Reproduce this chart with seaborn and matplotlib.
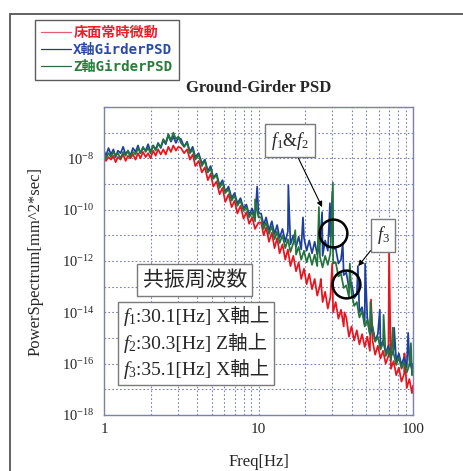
import numpy as np
import pandas as pd
import matplotlib
matplotlib.use("Agg")
import matplotlib.pyplot as plt
import seaborn as sns
from matplotlib.patches import Rectangle
from matplotlib.offsetbox import TextArea, HPacker, VPacker, AnnotationBbox

# ---------------- data (log10 of PSD) ----------------
freq = [1.00, 1.03, 1.07, 1.11, 1.15, 1.19, 1.23, 1.28, 1.33, 1.38, 1.43, 1.48, 1.54, 1.60, 1.66,
        1.72, 1.79, 1.86, 1.93, 2.00, 2.08, 2.16, 2.24, 2.33, 2.42, 2.51, 2.61, 2.71, 2.81, 2.92, 3.03,
        3.15, 3.3, 3.45, 3.6, 3.75, 3.9, 4.1, 4.3, 4.5, 4.7, 4.9, 5.1, 5.35, 5.6, 5.85, 6.1, 6.4,
        6.7, 7.0, 7.3, 7.65, 8.0, 8.35, 8.7, 9.1, 9.5, 10.0,
        10.4, 10.8, 11.2, 11.7, 12.2, 12.7, 13.2, 13.7, 14.3, 14.9, 15.5, 16.1, 16.8, 17.5, 18.2,
        18.9, 19.7, 20.5, 21.3, 22.2, 23.1, 24.0, 25.0, 26.0, 27.0, 28.1, 29.2, 30.4, 31.6, 32.9,
        34.2, 35.6, 37.0, 38.5, 40.0, 41.6, 43.3, 45.0, 46.8, 48.7, 50.6, 52.6, 54.7, 56.9, 59.2,
        61.6, 64.0, 66.6, 69.3, 72.0, 74.9, 77.9, 81.0, 84.2, 87.6, 91.1, 94.7, 98.5, 100.0]

x_log = [-7.70, -7.90, -7.60, -7.85, -7.65, -7.95, -7.70, -7.80, -7.55, -7.85, -7.70, -7.90, -7.60, -7.75, -7.50,
         -7.80, -7.60, -7.70, -7.45, -7.75, -7.50, -7.65, -7.40, -7.60, -7.30, -7.45, -7.10, -7.35, -7.15, -7.40, -7.20,
         -7.25, -7.55, -7.35, -7.75, -7.55, -7.95, -7.80, -8.20, -8.05, -8.50, -8.30, -8.75, -8.60, -9.05, -8.85, -9.30, -9.10,
         -9.55, -9.35, -9.75, -9.55, -9.95, -9.80, -10.20, -9.95, -10.35, -10.15,
         -10.15, -10.60, -10.30, -10.80, -10.45, -10.95, -10.60, -11.10, -10.75, -11.25, -10.85, -11.35, -11.00, -11.45, -11.05,
         -11.55, -11.10, -11.60, -11.20, -11.70, -11.25, -11.75, -11.30, -11.80, -11.20, -11.60, -11.05, -11.55, -11.50, -12.10,
         -11.95, -12.55, -12.45, -13.05, -12.85, -13.45, -13.30, -14.00, -13.80, -14.45, -14.20, -14.85, -14.55, -15.10, -14.85,
         -15.35, -15.10, -15.60, -15.30, -15.75, -15.45, -15.90, -15.60, -16.05, -15.75, -16.15, -15.85, -16.25, -16.00]

z_log = [-7.85, -8.00, -7.80, -7.95, -7.75, -7.90, -7.80, -8.00, -7.75, -7.90, -7.70, -7.95, -7.75, -7.85, -7.60,
         -7.80, -7.55, -7.75, -7.60, -7.80, -7.50, -7.70, -7.45, -7.55, -7.25, -7.40, -7.05, -7.30, -7.00, -7.25, -7.15,
         -7.40, -7.55, -7.40, -7.80, -7.65, -8.05, -7.85, -8.30, -8.10, -8.55, -8.40, -8.80, -8.65, -9.15, -8.95, -9.35, -9.20,
         -9.65, -9.45, -9.85, -9.65, -10.05, -9.90, -10.30, -10.10, -10.45, -10.30,
         -10.30, -10.75, -10.50, -10.95, -10.65, -11.15, -10.85, -11.30, -11.00, -11.50, -11.15, -11.65, -11.30, -11.75, -11.45,
         -11.95, -11.60, -12.05, -11.70, -12.15, -11.75, -12.20, -11.85, -12.25, -11.80, -12.15, -11.70, -12.10, -12.05, -12.60,
         -12.50, -13.05, -12.95, -13.40, -13.25, -13.75, -13.60, -14.20, -13.95, -14.55, -14.30, -14.85, -14.60, -15.15, -14.95,
         -15.45, -15.20, -15.70, -15.45, -15.85, -15.60, -16.05, -15.75, -16.20, -15.95, -16.35, -16.05, -16.45, -16.20]

g_log = [-7.95, -8.10, -7.95, -8.05, -7.90, -8.15, -7.95, -8.05, -7.85, -8.10, -7.90, -8.00, -7.85, -8.05, -7.80,
         -8.00, -7.75, -7.95, -7.80, -8.00, -7.70, -7.90, -7.65, -7.85, -7.65, -7.85, -7.55, -7.75, -7.50, -7.70, -7.55,
         -7.60, -7.80, -7.65, -8.05, -7.85, -8.30, -8.10, -8.55, -8.35, -8.85, -8.60, -9.10, -8.90, -9.40, -9.15, -9.70, -9.40,
         -9.90, -9.65, -10.15, -9.85, -10.35, -10.10, -10.55, -10.30, -10.75, -10.50,
         -10.50, -11.00, -10.70, -11.25, -10.90, -11.50, -11.10, -11.70, -11.35, -11.95, -11.55, -12.20, -11.80, -12.40, -12.05,
         -12.70, -12.30, -12.90, -12.50, -13.10, -12.70, -13.35, -12.95, -13.60, -13.20, -13.85, -13.40, -14.00, -13.60, -14.25,
         -13.90, -14.55, -14.20, -14.95, -14.55, -15.10, -14.70, -15.25, -14.85, -15.35, -14.95, -15.50, -15.10, -15.65, -15.30,
         -15.80, -15.50, -16.00, -15.70, -16.20, -15.90, -16.45, -16.15, -16.70, -16.40, -16.95, -16.60, -17.15, -16.85]

# narrow spectral peaks (frequency, log10 peak value)
x_spike_f = [9.8, 15.6, 19.4, 25.8, 29.0, 30.1, 35.1, 44.0, 49.0, 61.0, 75.5, 93.0]
x_spike_v = [-9.1, -9.05, -10.3, -10.1, -9.75, -9.3, -11.3, -12.2, -12.1, -13.9, -14.6, -14.8]
z_spike_f = [9.5, 17.3, 24.6, 30.3, 39.0, 53.0, 64.5, 74.0, 97.0]
z_spike_v = [-9.6, -10.8, -9.9, -8.95, -12.1, -13.6, -14.1, -14.6, -15.2]
g_spike_f = [25.3, 30.0, 36.0, 53.5, 70.0, 88.0]
g_spike_v = [-12.7, -12.1, -14.0, -13.5, -11.6, -15.6]

series_names = ["床面常時微動", "X軸GirderPSD", "Z軸GirderPSD"]
line_colors = ["#e8141e", "#1f3f9f", "#23733a"]
legend_text_colors = ["#e8202a", "#2a4aa8", "#2a7a3a"]

title = "Ground-Girder PSD"
xlabel = "Freq[Hz]"
ylabel = "PowerSpectrum[mm^2*sec]"
ytick_exp = [-18, -17, -16, -15, -14, -13, -12, -11, -10, -9, -8, -7, -6]
ylabel_exp = [-18, -16, -14, -12, -10, -8]
xtick_vals = [1, 10, 100]
xtick_labels = ["1", "10", "100"]

circle_f = [30.4, 36.9]
circle_log = [-10.91, -12.9]

note_title = "共振周波数"
note_sym = ["$f_1$", "$f_2$", "$f_3$"]
note_text = [":30.1[Hz] X軸上", ":30.3[Hz] Z軸上", ":35.1[Hz] X軸上"]

# ---------------- build table ----------------
rows = []
for name, vals, sf, sv in [(series_names[0], g_log, g_spike_f, g_spike_v),
                           (series_names[1], x_log, x_spike_f, x_spike_v),
                           (series_names[2], z_log, z_spike_f, z_spike_v)]:
    for f, v in zip(freq + sf, vals + sv):
        rows.append((name, f, 10.0 ** v))
df = pd.DataFrame(rows, columns=["series", "freq", "psd"])

# ---------------- style ----------------
sns.set_style("white")
plt.rcParams["font.family"] = ["Liberation Serif", "Noto Sans CJK JP"]
plt.rcParams["mathtext.fontset"] = "custom"
plt.rcParams["mathtext.rm"] = "Liberation Serif"
plt.rcParams["mathtext.it"] = "Liberation Serif:italic"
plt.rcParams["mathtext.bf"] = "Liberation Serif:bold"

W, H = 463, 471
fig = plt.figure(figsize=(W / 100, H / 100), dpi=100)
fig.patch.set_facecolor("white")
L, R, T, B = 104, 413, 107, 415
ax = fig.add_axes([L / W, 1 - B / H, (R - L) / W, (B - T) / H])

sns.lineplot(data=df, x="freq", y="psd", hue="series", hue_order=series_names,
             palette=dict(zip(series_names, line_colors)), estimator=None, sort=True,
             lw=1.25, ax=ax, legend=True)

ax.set_xscale("log")
ax.set_yscale("log")
ax.set_xlim(1, 100)
ax.set_ylim(1e-18, 1e-6)

# ticks
ax.set_yticks([10.0 ** e for e in ytick_exp])
ax.set_yticklabels([("$10^{%d}$" % e) if e in ylabel_exp else "" for e in ytick_exp],
                   fontsize=10.5)
ax.yaxis.set_minor_locator(matplotlib.ticker.NullLocator())
ax.set_xticks(xtick_vals)
ax.set_xticklabels(xtick_labels, fontsize=11)
ax.xaxis.set_minor_locator(matplotlib.ticker.LogLocator(base=10, subs=np.arange(2, 10)))
ax.xaxis.set_minor_formatter(matplotlib.ticker.NullFormatter())
ax.tick_params(which="both", length=0)
ax.tick_params(axis="y", pad=7)
ax.tick_params(axis="x", pad=6)

gstyle = dict(color="#7a82b4", lw=0.8, linestyle=(0, (1.5, 2.0)))
ax.grid(True, which="major", axis="both", **gstyle)
ax.grid(True, which="minor", axis="x", **gstyle)
for s in ax.spines.values():
    s.set_color("#7c82a8")
    s.set_linewidth(1.0)

ax.set_xlabel(xlabel, fontsize=12)
ax.set_ylabel(ylabel, fontsize=12)
ax.xaxis.set_label_coords(0.5, -0.125)
ax.yaxis.set_label_coords(-0.195, 0.5)

ax.text(0.5, 1.062, title, transform=ax.transAxes, ha="center", va="center",
        fontsize=12, fontweight="bold")

# circles
ax.plot(circle_f, [10.0 ** v for v in circle_log], ls="none", marker="o", ms=20,
        mfc="none", mec="black", mew=1.8)

# annotation boxes
box = dict(boxstyle="square,pad=0.3", fc="white", ec="#7a7a7a", lw=1)
ax.annotate("$f_1$&$f_2$", xy=(25.8, 10 ** -9.9), xycoords="data",
            xytext=(0.602, 0.89), textcoords="axes fraction", ha="center", va="center",
            fontsize=13, bbox=box,
            arrowprops=dict(arrowstyle="-|>", color="black", lw=0.8, mutation_scale=8,
                            shrinkA=0, shrinkB=0))
ax.annotate("$f_3$", xy=(44.2, 10 ** -12.2), xycoords="data",
            xytext=(0.903, 0.584), textcoords="axes fraction", ha="center", va="center",
            fontsize=13, bbox=box,
            arrowprops=dict(arrowstyle="-|>", color="black", lw=0.8, mutation_scale=8,
                            shrinkA=0, shrinkB=0))
ax.text(0.294, 0.438, note_title, transform=ax.transAxes, ha="center", va="center",
        fontsize=15, family=["Noto Sans CJK JP"],
        bbox=dict(boxstyle="square,pad=0.25", fc="white", ec="#7a7a7a", lw=1))

rows_box = []
for sym, txt in zip(note_sym, note_text):
    rows_box.append(HPacker(children=[
        TextArea(sym, textprops=dict(fontsize=14)),
        TextArea(txt, textprops=dict(fontsize=14, family=["Liberation Serif", "Noto Sans CJK JP"]))],
        sep=0, pad=0, align="baseline"))
vp = VPacker(children=rows_box, sep=3, pad=0, align="left")
ab = AnnotationBbox(vp, (0.06, 0.232), xycoords="axes fraction", box_alignment=(0, 0.5),
                    frameon=True, pad=0.35,
                    bboxprops=dict(boxstyle="square", fc="white", ec="#7a7a7a", lw=1))
ax.add_artist(ab)

# legend (outside, top-left of figure)
handles, labels = ax.get_legend_handles_labels()
ax.get_legend().remove()
leg = fig.legend(handles, labels, loc="upper left", bbox_to_anchor=(35 / W, 1 - 20 / H),
                 bbox_transform=fig.transFigure, borderaxespad=0, frameon=True, fancybox=False,
                 prop=dict(family=["DejaVu Sans Mono", "Noto Sans CJK JP"], weight="bold", size=10.2),
                 handlelength=2.1, handletextpad=0.15, labelspacing=0.2, borderpad=0.45)
leg.get_frame().set_edgecolor("#333333")
leg.get_frame().set_linewidth(1.0)
for t, c in zip(leg.get_texts(), legend_text_colors):
    t.set_color(c)
for h, c in zip(leg.legend_handles, ["#e06070", "#303878", "#2f6a40"]):
    h.set_linewidth(0.9)
    h.set_color(c)

# outer frame
fig.patches.append(Rectangle((10 / W, -0.1), 1.2, 1 - 14 / H + 0.1, transform=fig.transFigure,
                             fill=False, edgecolor="#555555", lw=1.3))

fig.savefig("out.png", dpi=100)
